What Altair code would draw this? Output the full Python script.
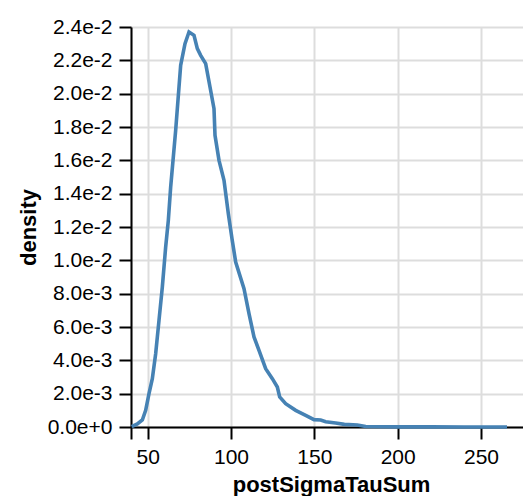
import altair as alt
import pandas as pd

post_sigma_tau_sum = [40.4, 43.8, 46.8, 48.8, 50.8, 52.8, 54.8, 56.8, 58.8, 60.8,
                      62.4, 63.8, 66.8, 69.8, 72.4, 74.8, 77.8, 79.8, 81.8, 84.8,
                      87.4, 89.8, 90.4, 92.8, 95.8, 98.4, 100.6, 102.8, 107.8, 110.8,
                      113.8, 116.8, 120.8, 124.8, 127.8, 129.2, 132.8, 138.8, 144.8, 149.8,
                      153.8, 156.8, 162.8, 168.0, 175.8, 180.8, 200.0, 220.0, 240.0, 265.6]
density = [0.00002, 0.00018, 0.00042, 0.0010, 0.0020, 0.0029, 0.0044, 0.0064, 0.0084, 0.0108,
           0.0124, 0.0144, 0.0178, 0.0217, 0.0230, 0.0237, 0.0235, 0.0227, 0.0223, 0.0218,
           0.0204, 0.0191, 0.0175, 0.0160, 0.0148, 0.0128, 0.0113, 0.0099, 0.0083, 0.0068,
           0.0054, 0.0046, 0.0035, 0.0029, 0.0024, 0.0018, 0.0014, 0.0010, 0.0007, 0.00044,
           0.00042, 0.00032, 0.00024, 0.00016, 0.00012, 0.00003, 0.00001, 0.00001, 0.0, 0.0]

x_ticks = [40, 50, 100, 150, 200, 250]

df = pd.DataFrame({"postSigmaTauSum": post_sigma_tau_sum, "density": density})

chart = alt.Chart(df).mark_line(color="#4682b4", strokeWidth=3.6).encode(
    x=alt.X("postSigmaTauSum:Q", title="postSigmaTauSum",
            scale=alt.Scale(zero=False),
            axis=alt.Axis(values=x_ticks,
                          labelExpr="datum.value == 40 ? '' : datum.label")),
    y=alt.Y("density:Q", title="density", axis=alt.Axis(format=".1e")),
).properties(
    width=400, height=400,
    autosize=alt.AutoSizeParams(type="none"),
    padding={"left": 123, "top": 19, "right": -8, "bottom": 69},
).configure_axis(
    labelFontSize=21, titleFontSize=22, tickSize=12, tickWidth=2, domainWidth=2,
    gridWidth=2, gridColor="#dddddd", labelPadding=7, titlePadding=7,
    domainColor="black", tickColor="black", labelColor="black", titleColor="black",
    labelFont="Liberation Sans", titleFont="Liberation Sans"
).configure_view(strokeWidth=0)

chart.save("out.html", embed_options={"renderer": "svg", "actions": False})
